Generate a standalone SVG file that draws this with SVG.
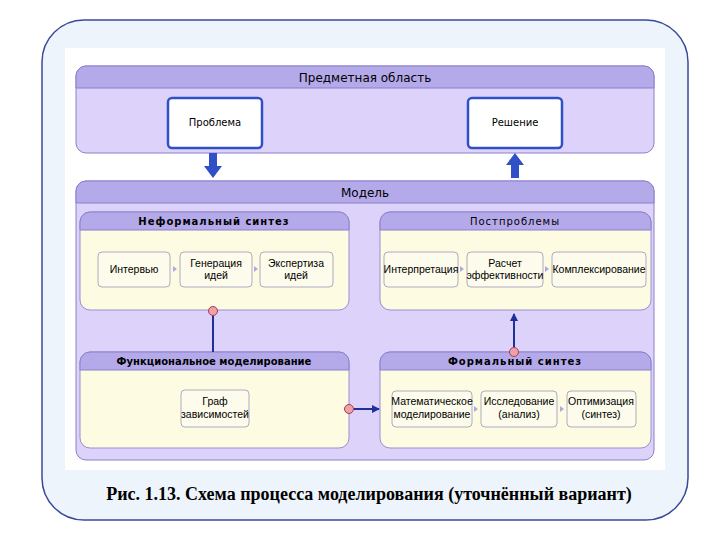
<svg xmlns="http://www.w3.org/2000/svg" width="720" height="540" viewBox="0 0 720 540">
<defs>
<style>
text{font-family:"DejaVu Sans",sans-serif;fill:#000}
.hd{fill:#b4aaea;stroke:#8a80cc;stroke-width:1}
.bd{fill:#dcd2fa;stroke:#8a80cc;stroke-width:1}
.yb{fill:#fdfbe2;stroke:#9a90d0;stroke-width:1}
.ib{fill:#fdfcec;stroke:#b0aac0;stroke-width:1}
.kb{fill:#fff;stroke:#3050c8;stroke-width:2.5}
.h{font-size:12px;text-anchor:middle}
.s{font-size:10px;text-anchor:middle}
.n{font-family:"Liberation Sans",sans-serif;font-size:10.5px;text-anchor:middle}
.c{fill:#f0a0a8;stroke:#a04050;stroke-width:1}
.ln{stroke:#20309a;stroke-width:2;fill:none}
.tri{fill:#b0a8e0}
</style>
<marker id="ar" markerWidth="8" markerHeight="8" refX="7" refY="4" orient="auto" markerUnits="userSpaceOnUse"><path d="M0,0L8,4L0,8z" fill="#20309a"/></marker>
</defs>
<rect x="42" y="20" width="646" height="500" rx="42" fill="#eef4fb" stroke="#3a4a9a" stroke-width="1.5"/>
<rect x="65" y="48" width="600" height="422" fill="#fff"/>
<g id="subject">
<rect class="bd" x="76" y="66" width="578" height="87" rx="10"/>
<path class="hd" d="M86,66H644A10,10 0 0 1 654,76V88H76V76A10,10 0 0 1 86,66z"/>
<text class="h" x="365" y="82">Предметная область</text>
</g>
<g id="problem"><rect class="kb" x="168" y="98" width="94" height="50" rx="4"/><text class="s" x="215" y="126">Проблема</text></g>
<g id="solution"><rect class="kb" x="468" y="98" width="94" height="50" rx="4"/><text class="s" x="515" y="126">Решение</text></g>
<g id="model">
<rect class="bd" x="76" y="181" width="578" height="279" rx="10"/>
<path class="hd" d="M86,181H644A10,10 0 0 1 654,191V203H76V191A10,10 0 0 1 86,181z"/>
<text class="h" x="365" y="197">Модель</text>
</g>
<g id="informal">
<rect class="yb" x="80" y="212" width="269" height="98" rx="10"/>
<path class="hd" d="M90,212H339A10,10 0 0 1 349,222V230H80V222A10,10 0 0 1 90,212z"/>
<text class="s" x="214" y="225" font-weight="bold" letter-spacing="1">Неформальный синтез</text>
<rect class="ib" x="98" y="252" width="72" height="35" rx="4"/><text class="n" x="134" y="273">Интервью</text>
<rect class="ib" x="180" y="252" width="72" height="35" rx="4"/><text class="n" x="216" y="267">Генерация</text><text class="n" x="216" y="279">идей</text>
<rect class="ib" x="260" y="252" width="73" height="35" rx="4"/><text class="n" x="296" y="267">Экспертиза</text><text class="n" x="296" y="279">идей</text>
<path class="tri" d="M173,266l4,3-4,3z M254,266l4,3-4,3z"/>
</g>
<g id="post">
<rect class="yb" x="380" y="212" width="271" height="98" rx="10"/>
<path class="hd" d="M390,212H641A10,10 0 0 1 651,222V230H380V222A10,10 0 0 1 390,212z"/>
<text class="s" x="515" y="225" letter-spacing="1">Постпроблемы</text>
<rect class="ib" x="384" y="252" width="74" height="35" rx="4"/><text class="n" x="421" y="273">Интерпретация</text>
<rect class="ib" x="467" y="252" width="76" height="35" rx="4"/><text class="n" x="505" y="267">Расчет</text><text class="n" x="505" y="279">эффективности</text>
<rect class="ib" x="552" y="252" width="94" height="35" rx="4"/><text class="n" x="599" y="273">Комплексирование</text>
<path class="tri" d="M460,266l4,3-4,3z M545,266l4,3-4,3z"/>
</g>
<g id="functional">
<rect class="yb" x="80" y="352" width="269" height="96" rx="10"/>
<path class="hd" d="M90,352H339A10,10 0 0 1 349,362V370H80V362A10,10 0 0 1 90,352z"/>
<text class="s" x="214" y="365" font-weight="bold">Функциональное моделирование</text>
<rect class="ib" x="181" y="390" width="68" height="37" rx="4"/><text class="n" x="215" y="405">Граф</text><text class="n" x="215" y="418">зависимостей</text>
</g>
<g id="formal">
<rect class="yb" x="380" y="352" width="271" height="96" rx="10"/>
<path class="hd" d="M390,352H641A10,10 0 0 1 651,362V370H380V362A10,10 0 0 1 390,352z"/>
<text class="s" x="515" y="365" font-weight="bold" letter-spacing="1">Формальный синтез</text>
<rect class="ib" x="392" y="391" width="80" height="36" rx="4"/><text class="n" x="432" y="405">Математическое</text><text class="n" x="432" y="418">моделирование</text>
<rect class="ib" x="481" y="391" width="76" height="36" rx="4"/><text class="n" x="519" y="405">Исследование</text><text class="n" x="519" y="418">(анализ)</text>
<rect class="ib" x="567" y="391" width="69" height="36" rx="4"/><text class="n" x="601" y="405">Оптимизация</text><text class="n" x="601" y="418">(синтез)</text>
<path class="tri" d="M474,406l4,3-4,3z M560,406l4,3-4,3z"/>
</g>
<g id="connectors">
<path d="M209,153h8v13h5l-9,12-9-12h5z" fill="#3050c8"/>
<path d="M511,178h8v-13h5l-9-12-9,12h5z" fill="#3050c8"/>
<line class="ln" x1="213" y1="315" x2="213" y2="352"/>
<circle class="c" cx="213" cy="311" r="4.5"/>
<line class="ln" x1="514" y1="347" x2="514" y2="314" marker-end="url(#ar)" stroke-width="1.5"/>
<circle class="c" cx="514" cy="352" r="4.5"/>
<line class="ln" x1="354" y1="409" x2="379" y2="409" marker-end="url(#ar)"/>
<circle class="c" cx="349" cy="409" r="4.5"/>
</g>
<text x="369" y="500" text-anchor="middle" style="font-family:'Liberation Serif',serif;font-size:18px;font-weight:bold">Рис. 1.13. Схема процесса моделирования (уточнённый вариант)</text>
</svg>
